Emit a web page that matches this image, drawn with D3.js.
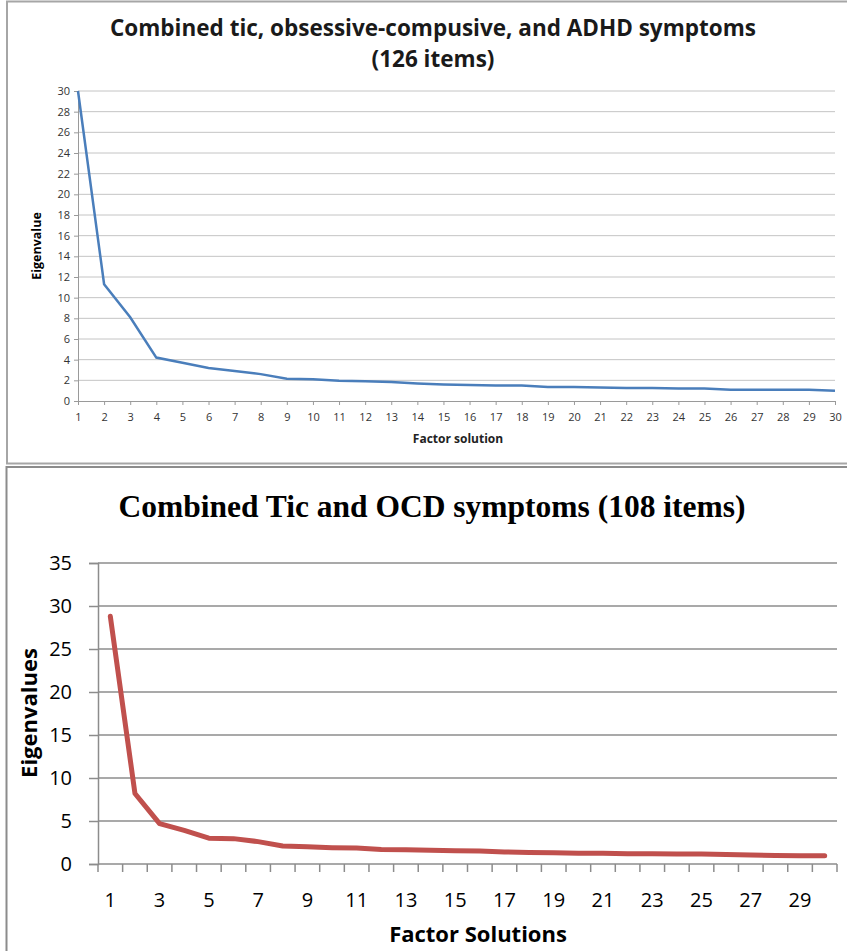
<!DOCTYPE html>
<html>
<head>
<meta charset="utf-8">
<script src="https://cdn.jsdelivr.net/npm/d3@7"></script>
<style>
  body { margin: 0; background: #fff; }
  svg { display: block; }
</style>
</head>
<body>
<script>
/* DATA */
const factors = d3.range(1, 31);
// top chart: tic + OC + ADHD (126 items)
const eigenTop = [30, 11.3, 8.1, 4.2, 3.7, 3.2, 2.9, 2.6, 2.15, 2.1,
  1.95, 1.9, 1.85, 1.7, 1.6, 1.55, 1.5, 1.5, 1.35, 1.35,
  1.3, 1.25, 1.25, 1.2, 1.2, 1.1, 1.1, 1.1, 1.1, 1.0];
const yTicksTop = d3.range(0, 31, 2);
// bottom chart: tic + OCD (108 items)
const eigenBottom = [28.8, 8.2, 4.7, 3.9, 3.0, 2.95, 2.6, 2.1, 2.0, 1.9,
  1.85, 1.7, 1.65, 1.6, 1.55, 1.5, 1.4, 1.35, 1.3, 1.25,
  1.25, 1.2, 1.2, 1.15, 1.15, 1.1, 1.05, 1.0, 0.95, 0.95];
const yTicksBottom = d3.range(0, 36, 5);
const xLabelsBottom = factors.filter(d => d % 2 === 1);

const width = 847, height = 951;

const svg = d3.select("body").append("svg")
  .attr("width", width)
  .attr("height", height);

/* panel frames */
svg.append("rect")
  .attr("x", 7).attr("y", 1.5).attr("width", 850).attr("height", 462)
  .attr("fill", "none").attr("stroke", "#a6a6a6").attr("stroke-width", 2);
svg.append("rect")
  .attr("x", 6.5).attr("y", 467).attr("width", 850).attr("height", 500)
  .attr("fill", "none").attr("stroke", "#8c8c8c").attr("stroke-width", 2);

/* ---------- TOP CHART ---------- */
const pTop = { left: 78, right: 835, top: 91, bottom: 401 };

const xTop = d3.scaleLinear().domain([1, 30]).range([pTop.left, pTop.right]);
const yTop = d3.scaleLinear().domain([0, 30]).range([pTop.bottom, pTop.top]);

const g1 = svg.append("g").attr("font-family", "'Open Sans', sans-serif");

// gridlines
g1.append("g")
  .selectAll("line")
  .data(yTicksTop.filter(d => d > 0))
  .join("line")
  .attr("x1", pTop.left).attr("x2", pTop.right)
  .attr("y1", d => yTop(d)).attr("y2", d => yTop(d))
  .attr("stroke", "#c4c4c4").attr("stroke-width", 1);

const yAxisTop = g1.append("g")
  .attr("transform", `translate(${pTop.left},0)`)
  .call(d3.axisLeft(yTop).tickValues(yTicksTop).tickSize(4).tickPadding(4));
const xAxisTop = g1.append("g")
  .attr("transform", `translate(0,${pTop.bottom})`)
  .call(d3.axisBottom(xTop).tickValues(factors).tickSize(4).tickPadding(8).tickFormat(d3.format("d")));

[yAxisTop, xAxisTop].forEach(a => {
  a.select(".domain").attr("stroke", "#9a9a9a");
  a.selectAll(".tick line").attr("stroke", "#9a9a9a");
  a.selectAll("text").attr("font-size", 11).attr("fill", "#333")
    .attr("font-family", "'Open Sans', sans-serif");
});

g1.append("path")
  .datum(eigenTop)
  .attr("fill", "none")
  .attr("stroke", "#4a7ebb")
  .attr("stroke-width", 2.5)
  .attr("d", d3.line().x((d, i) => xTop(factors[i])).y(d => yTop(d)));

g1.append("text")
  .attr("x", 433).attr("y", 36)
  .attr("text-anchor", "middle")
  .attr("font-weight", "bold").attr("font-size", 22.5)
  .attr("fill", "#1a1a1a")
  .text("Combined tic, obsessive-compusive, and ADHD symptoms");
g1.append("text")
  .attr("x", 433).attr("y", 67)
  .attr("text-anchor", "middle")
  .attr("font-weight", "bold").attr("font-size", 22.5)
  .attr("fill", "#1a1a1a")
  .text("(126 items)");

g1.append("text")
  .attr("transform", "translate(41,246) rotate(-90)")
  .attr("text-anchor", "middle")
  .attr("font-weight", "bold").attr("font-size", 12.5)
  .text("Eigenvalue");
g1.append("text")
  .attr("x", 458).attr("y", 443)
  .attr("text-anchor", "middle")
  .attr("font-weight", "bold").attr("font-size", 12)
  .attr("fill", "#222")
  .text("Factor solution");

/* ---------- BOTTOM CHART ---------- */
const pBot = { left: 98, right: 837, top: 563, bottom: 864 };

const xBot = d3.scaleBand().domain(factors).range([pBot.left, pBot.right]);
const yBot = d3.scaleLinear().domain([0, 35]).range([pBot.bottom, pBot.top]);

const g2 = svg.append("g").attr("font-family", "'Open Sans', sans-serif");

g2.append("g")
  .selectAll("line")
  .data(yTicksBottom.filter(d => d > 0))
  .join("line")
  .attr("x1", pBot.left).attr("x2", pBot.right)
  .attr("y1", d => yBot(d)).attr("y2", d => yBot(d))
  .attr("stroke", "#8c8c8c").attr("stroke-width", 1.3);

const yAxisBot = g2.append("g")
  .attr("transform", `translate(${pBot.left},0)`)
  .call(d3.axisLeft(yBot).tickValues(yTicksBottom).tickSize(9).tickPadding(17));

// category boundary ticks on x axis
const xAxisBot = g2.append("g")
  .attr("transform", `translate(0,${pBot.bottom})`);
xAxisBot.append("line")
  .attr("x1", pBot.left).attr("x2", pBot.right)
  .attr("stroke", "#8c8c8c").attr("stroke-width", 1.5);
xAxisBot.selectAll(".bnd")
  .data(factors.concat([31]))
  .join("line")
  .attr("class", "bnd")
  .attr("x1", d => d <= 30 ? xBot(d) : pBot.right)
  .attr("x2", d => d <= 30 ? xBot(d) : pBot.right)
  .attr("y1", 0).attr("y2", 8)
  .attr("stroke", "#8c8c8c").attr("stroke-width", 1.5);
xAxisBot.selectAll("text")
  .data(xLabelsBottom)
  .join("text")
  .attr("x", d => xBot(d) + xBot.bandwidth() / 2)
  .attr("y", 43)
  .attr("text-anchor", "middle")
  .attr("font-size", 20)
  .attr("fill", "#000")
  .text(d => d);

yAxisBot.select(".domain").attr("stroke", "#8c8c8c").attr("stroke-width", 1.5);
yAxisBot.selectAll(".tick line").attr("stroke", "#8c8c8c").attr("stroke-width", 1.5);
yAxisBot.selectAll("text").attr("font-size", 20).attr("fill", "#000")
  .attr("font-family", "'Open Sans', sans-serif");

g2.append("path")
  .datum(eigenBottom)
  .attr("fill", "none")
  .attr("stroke", "#c0504d")
  .attr("stroke-width", 5)
  .attr("stroke-linecap", "round")
  .attr("stroke-linejoin", "round")
  .attr("d", d3.line()
    .x((d, i) => xBot(factors[i]) + xBot.bandwidth() / 2)
    .y(d => yBot(d)));

g2.append("text")
  .attr("x", 432).attr("y", 517)
  .attr("text-anchor", "middle")
  .attr("font-family", "'Liberation Serif', 'Times New Roman', serif")
  .attr("font-weight", "bold").attr("font-size", 31.5)
  .text("Combined Tic and OCD symptoms (108 items)");

g2.append("text")
  .attr("transform", "translate(37,713) rotate(-90)")
  .attr("text-anchor", "middle")
  .attr("font-weight", "bold").attr("font-size", 22)
  .text("Eigenvalues");
g2.append("text")
  .attr("x", 478).attr("y", 942)
  .attr("text-anchor", "middle")
  .attr("font-weight", "bold").attr("font-size", 22)
  .text("Factor Solutions");
</script>
</body>
</html>
